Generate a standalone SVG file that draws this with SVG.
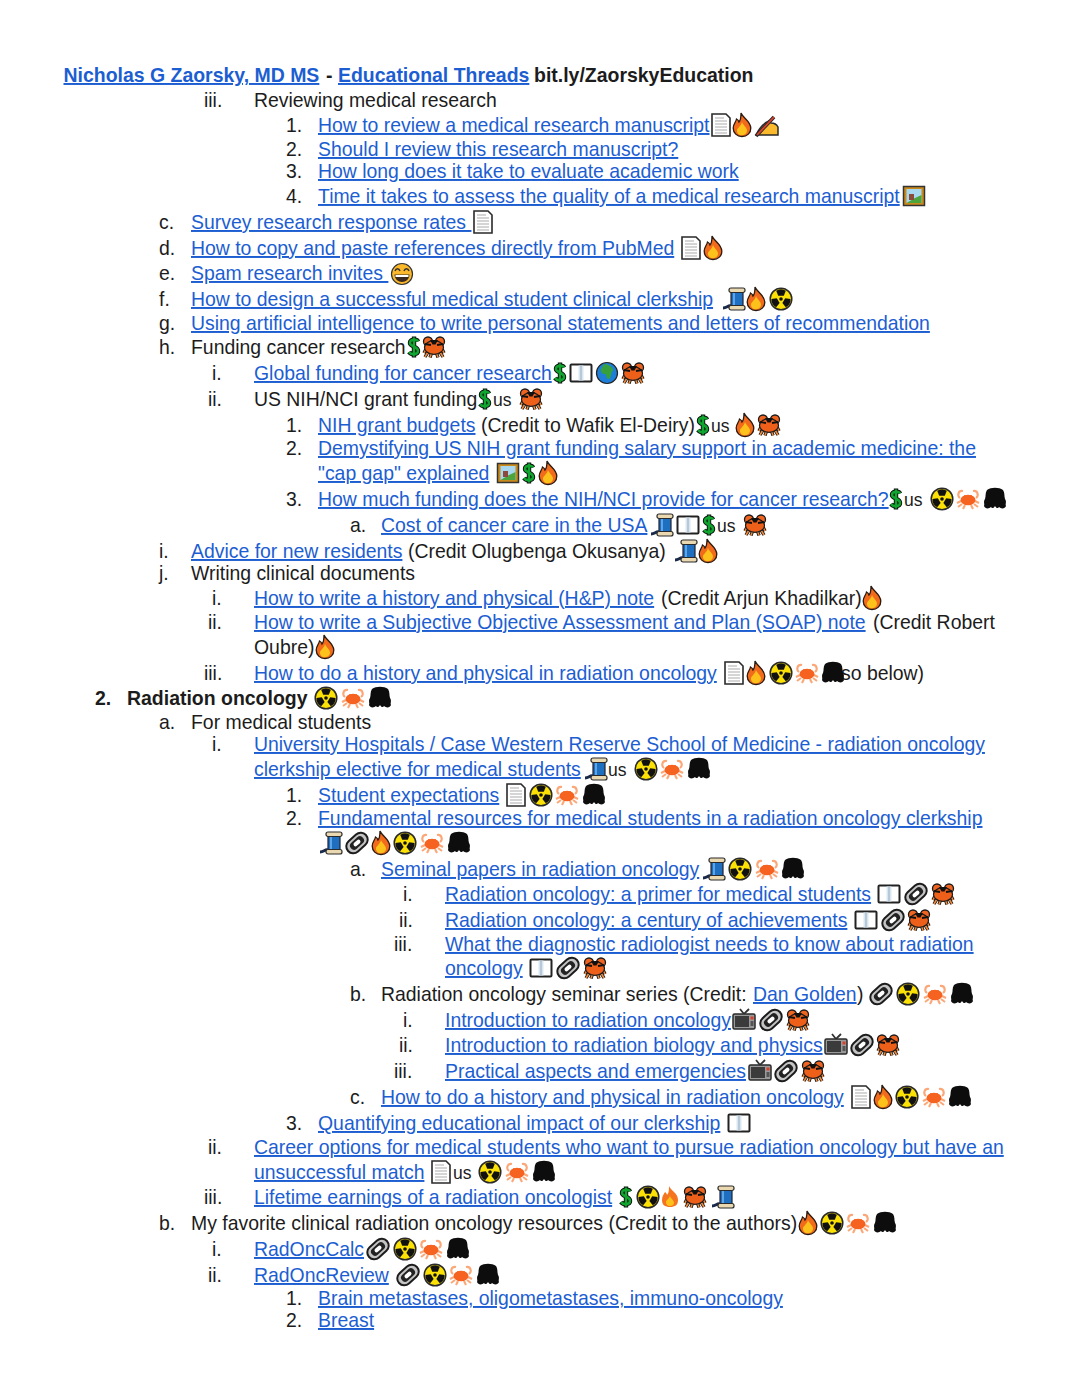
<svg xmlns="http://www.w3.org/2000/svg" width="1080" height="1397" viewBox="0 0 1080 1397">
<style>
text{font-family:"Liberation Sans",Arial,sans-serif;font-size:19.41px;fill:#1c1c1c;white-space:pre}
.l{fill:#1c5ed2;text-decoration:underline;text-decoration-skip-ink:none}
.b{font-weight:bold;font-size:19.47px}
.u{font-size:17.5px}
.leg{fill:none;stroke:#1a1a1a;stroke-width:3.4}
.leg2{fill:none;stroke:#f08a3c;stroke-width:1.6}
.fl{stroke:#2a2a2a;stroke-width:1.2;fill:#e9d8b0}
</style>
<defs>
<g id="doc"><path d="M-9,-11H5L9,-7V11H-9Z" fill="#fff" stroke="#2a2a2a" stroke-width="1.6"/><path d="M-6,-7H3M-6,-4H6M-6,-1H6M-6,2H6M-6,5H6M-6,8H6" stroke="#c8c8c8" stroke-width="1.3"/></g>
<g id="fire"><path d="M-1,-12C1,-7 8.500,-4 8.800,3C9,8 5,11.500 0,11.500C-5,11.500 -8.800,8 -8.800,3C-8.800,-1 -6,-3 -5.500,-6C-3.500,-5 -3,-3 -3,-3C-1,-5 -1,-9 -1,-12Z" fill="#f26a1b" stroke="#2a1a10" stroke-width="1.300"/><path d="M0,-3C1,0 5.500,3 5,6C4.500,9 2,10.300 0,10.300C-3,10.300 -5.500,8 -5,5C-4.500,3 -1,1 0,-3Z" fill="#fcc21b"/></g>
<g id="fire2"><path d="M-1,-11C1,-6 8,-4 8,3C8,8 5,10 0,10C-5,10 -8,8 -8,3C-8,-1 -6,-3 -5,-5C-3,-4 -3,-2 -3,-2C-1,-4 -1,-8 -1,-11Z" fill="#f4741f"/><path d="M0,-1C1,2 4,3 4,6C4,8 2,9 0,9C-3,9 -4,7 -4,5C-4,3 -1,2 0,-1Z" fill="#fcc21b"/></g>
<g id="write"><path d="M-11,9C-8,3 -3,-3 2,-5L4,-3C7,-3 10,-1 11,1V9Z" fill="#fbb92d" stroke="#2a2a2a" stroke-width="1.500"/><path d="M-11,10L7,-9" stroke="#2a2a2a" stroke-width="3.600"/><path d="M-10,9L7,-9" stroke="#e0402a" stroke-width="1.800"/></g>
<g id="pic"><rect x="-10.500" y="-9.500" width="21" height="19" fill="#c98a1d" stroke="#333" stroke-width="1.500"/><rect x="-7.500" y="-7" width="15" height="14" fill="#a8d8f0"/><path d="M-7.500,7L1,2L7.500,-1V7Z" fill="#4ea43c"/><rect x="-5" y="-2" width="5" height="6" fill="#8c4b3a"/></g>
<g id="smile"><circle r="10.500" fill="#fbb82b" stroke="#333" stroke-width="1.200"/><path d="M-7.500,0.500H7.500C7.500,5 4,8 0,8C-4,8 -7.500,5 -7.500,0.500Z" fill="#3a2a20"/><path d="M-6.500,1H6.500V3H-6.500Z" fill="#fff"/><path d="M-7,-3C-6,-6 -3,-6 -2,-3M2,-3C3,-6 6,-6 7,-3" fill="none" stroke="#333" stroke-width="1.500"/></g>
<g id="spool"><path d="M-2,7C-5,6 -6,9 -10,9" fill="none" stroke="#1a2a4a" stroke-width="3"/><rect x="-2" y="-7" width="12" height="15" fill="#1f6fc0" stroke="#223" stroke-width="1.200"/><path d="M1,-6V7" stroke="#5da5e6" stroke-width="2"/><rect class="fl" x="-4" y="-11" width="16" height="4.500" rx="2"/><rect class="fl" x="-4" y="6.500" width="16" height="4.500" rx="2"/></g>
<g id="blade"><path d="M-2.800,-3.200L-4.800,-8.300A9,9 0 0 1 4.800,-8.300L2.800,-3.200Z" fill="#111"/></g>
<g id="rad"><circle r="10.800" fill="#fbe106" stroke="#2a2a2a" stroke-width="1.500"/><circle r="1.800" fill="#111"/><use href="#blade"/><use href="#blade" transform="rotate(120)"/><use href="#blade" transform="rotate(240)"/></g>
<g id="dollar"><path d="M4,-5.500C3,-8 -4,-8 -4,-4C-4,0 4,-1 4,4C4,8 -3,8 -5,5M0,-10.500V10.500" fill="none" stroke="#111" stroke-width="4.400"/><path d="M4,-5.500C3,-8 -4,-8 -4,-4C-4,0 4,-1 4,4C4,8 -3,8 -5,5M0,-9.500V9.500" fill="none" stroke="#10a52e" stroke-width="2.500"/></g>
<g id="crab"><path class="leg" d="M-8,2L-10,6M8,2L10,6M-6,5L-9,10M6,5L9,10M-2.500,6L-4,10.500M2.500,6L4,10.500"/><path class="leg2" d="M-8,2L-10,6M8,2L10,6M-6,5L-9,10M6,5L9,10M-2.500,6L-4,10.500M2.500,6L4,10.500"/><circle cx="-6" cy="-5.500" r="4.500" fill="#ee6420" stroke="#1a1a1a" stroke-width="1.300"/><circle cx="6" cy="-5.500" r="4.500" fill="#ee6420" stroke="#1a1a1a" stroke-width="1.300"/><ellipse cy="0.500" rx="9.500" ry="6.800" fill="#ee5f1a" stroke="#1a1a1a" stroke-width="1.200"/><path d="M-4,-7L-1.500,-2.500H1.500L4,-7Z" fill="#111"/><path d="M-9,-3L-3,-2M9,-3L3,-2" stroke="#111" stroke-width="1.800"/></g>
<g id="lcrab"><path d="M-5,-8C-10,-9 -11,-3 -8,-1M5,-8C10,-9 11,-3 8,-1M-7,2L-11,4M7,2L11,4M-6,5L-10,8M6,5L10,8M-3,6L-5,10M3,6L5,10" fill="none" stroke="#fba777" stroke-width="2.100"/><ellipse cy="1" rx="7.500" ry="5.200" fill="#f6621f"/><path d="M-3,-4V-2M3,-4V-2" stroke="#f6621f" stroke-width="1.500"/></g>
<g id="blob"><path d="M-8,-9C-4,-12 4,-12 8,-9C10,-6 9,-3 10,0C12,3 10,5 11,7C10,10 6,10 4,8C3,10 1,9 0,7C-1,9 -3,10 -4,8C-6,10 -10,10 -11,7C-10,5 -12,3 -10,0C-9,-3 -10,-6 -8,-9Z" fill="#0d0d0d"/></g>
<g id="clip"><g transform="rotate(-42)"><rect x="-12" y="-7" width="24" height="14" rx="7" fill="#c4c4c4" stroke="#1c1c1c" stroke-width="2"/><rect x="-8" y="-4" width="16" height="8" rx="4" fill="#222"/><rect x="-4" y="-2" width="8" height="4" rx="2" fill="#fff"/></g></g>
<g id="tv"><path d="M-4,-11L0,-6L5,-11" fill="none" stroke="#333" stroke-width="1.800"/><rect x="-11" y="-6" width="22" height="15" rx="1.500" fill="#9a9a9a" stroke="#2a2a2a" stroke-width="1.500"/><rect x="-9" y="-4" width="14" height="11" fill="#3b3b3b"/><rect x="6.500" y="-3.500" width="3" height="3" fill="#d9402a"/><rect x="6.500" y="1" width="3" height="5" fill="#555"/></g>
<g id="book"><rect x="-10.500" y="-8.500" width="21" height="17" rx="1" fill="#fff" stroke="#222" stroke-width="2"/><path d="M-2.500,-7.500H2.500V7.500H-2.500Z" fill="#d8e6f2"/><path d="M0,-7.500V7.500" stroke="#9ab" stroke-width="1"/></g>
<g id="globe"><circle r="10.500" fill="#1f7fd8" stroke="#222" stroke-width="1.200"/><path d="M-3,-9C2,-9 7,-5 6,-2C4,-2 5,1 3,5C1,8 -1,4 -1,1C-4,2 -7,-1 -6,-4C-5,-6 -4,-7 -3,-9Z" fill="#35a03c"/></g>
</defs>
<g id="text">
<text x="63.500" y="82" class="b l">Nicholas G Zaorsky, MD MS</text><text x="326" y="82" class="b">-</text><text x="338" y="82" class="b l">Educational Threads</text><text x="534" y="82" class="b">bit.ly/ZaorskyEducation</text>
<text x="204" y="107">iii.</text><text x="254" y="107">Reviewing medical research</text>
<text x="286" y="132">1.</text><text x="318" y="132" class="l">How to review a medical research manuscript</text>
<text x="286" y="156">2.</text><text x="318" y="156" class="l">Should I review this research manuscript?</text>
<text x="286" y="178">3.</text><text x="318" y="178" class="l">How long does it take to evaluate academic work</text>
<text x="286" y="203">4.</text><text x="318" y="203" class="l">Time it takes to assess the quality of a medical research manuscript</text>
<text x="159" y="229">c.</text><text x="191" y="229" class="l">Survey research response rates </text>
<text x="159" y="255">d.</text><text x="191" y="255" class="l">How to copy and paste references directly from PubMed</text>
<text x="159" y="280">e.</text><text x="191" y="280" class="l">Spam research invites </text>
<text x="159" y="306">f.</text><text x="191" y="306" class="l">How to design a successful medical student clinical clerkship</text>
<text x="159" y="330">g.</text><text x="191" y="330" class="l">Using artificial intelligence to write personal statements and letters of recommendation</text>
<text x="159" y="354">h.</text><text x="191" y="354">Funding cancer research</text>
<text x="212" y="380">i.</text><text x="254" y="380" class="l">Global funding for cancer research</text>
<text x="208" y="406">ii.</text><text x="254" y="406">US NIH/NCI grant funding</text><text class="u" x="493" y="406">us</text>
<text x="286" y="432">1.</text><text x="318" y="432" class="l">NIH grant budgets</text><text x="481" y="432">(Credit to Wafik El-Deiry)</text><text class="u" x="711" y="432">us</text>
<text x="286" y="455">2.</text><text x="318" y="455" class="l">Demystifying US NIH grant funding salary support in academic medicine: the</text>
<text x="318" y="480" class="l">"cap gap" explained</text>
<text x="286" y="506">3.</text><text x="318" y="506" class="l">How much funding does the NIH/NCI provide for cancer research?</text><text class="u" x="904" y="506">us</text>
<text x="350" y="532">a.</text><text x="381" y="532" class="l">Cost of cancer care in the USA</text><text class="u" x="717" y="532">us</text>
<text x="159" y="558">i.</text><text x="191" y="558" class="l">Advice for new residents</text><text x="408" y="558">(Credit Olugbenga Okusanya)</text>
<text x="159" y="580">j.</text><text x="191" y="580">Writing clinical documents</text>
<text x="212" y="605">i.</text><text x="254" y="605" class="l">How to write a history and physical (H&amp;P) note</text><text x="661" y="605">(Credit Arjun Khadilkar)</text>
<text x="208" y="629">ii.</text><text x="254" y="629" class="l">How to write a Subjective Objective Assessment and Plan (SOAP) note</text><text x="873" y="629">(Credit Robert</text>
<text x="254" y="654">Oubre)</text>
<text x="204" y="680">iii.</text><text x="254" y="680" class="l">How to do a history and physical in radiation oncology</text><text x="841" y="680">so below)</text>
<text x="95" y="705" class="b">2.</text><text x="127" y="705" class="b">Radiation oncology</text>
<text x="159" y="729">a.</text><text x="191" y="729">For medical students</text>
<text x="212" y="751">i.</text><text x="254" y="751" class="l">University Hospitals / Case Western Reserve School of Medicine - radiation oncology</text>
<text x="254" y="776" class="l">clerkship elective for medical students</text><text class="u" x="608" y="776">us</text>
<text x="286" y="802">1.</text><text x="318" y="802" class="l">Student expectations</text>
<text x="286" y="825">2.</text><text x="318" y="825" class="l">Fundamental resources for medical students in a radiation oncology clerkship</text>
<text x="350" y="876">a.</text><text x="381" y="876" class="l">Seminal papers in radiation oncology</text>
<text x="403" y="901">i.</text><text x="445" y="901" class="l">Radiation oncology: a primer for medical students</text>
<text x="399" y="927">ii.</text><text x="445" y="927" class="l">Radiation oncology: a century of achievements</text>
<text x="394" y="951">iii.</text><text x="445" y="951" class="l">What the diagnostic radiologist needs to know about radiation</text>
<text x="445" y="975" class="l">oncology</text>
<text x="350" y="1001">b.</text><text x="381" y="1001">Radiation oncology seminar series (Credit:</text><text x="753" y="1001" class="l">Dan Golden</text><text x="857" y="1001">)</text>
<text x="403" y="1027">i.</text><text x="445" y="1027" class="l">Introduction to radiation oncology</text>
<text x="399" y="1052">ii.</text><text x="445" y="1052" class="l">Introduction to radiation biology and physics</text>
<text x="394" y="1078">iii.</text><text x="445" y="1078" class="l">Practical aspects and emergencies</text>
<text x="350" y="1104">c.</text><text x="381" y="1104" class="l">How to do a history and physical in radiation oncology</text>
<text x="286" y="1130">3.</text><text x="318" y="1130" class="l">Quantifying educational impact of our clerkship</text>
<text x="208" y="1154">ii.</text><text x="254" y="1154" class="l">Career options for medical students who want to pursue radiation oncology but have an</text>
<text x="254" y="1179" class="l">unsuccessful match</text><text class="u" x="453" y="1179">us</text>
<text x="204" y="1204">iii.</text><text x="254" y="1204" class="l">Lifetime earnings of a radiation oncologist</text>
<text x="159" y="1230">b.</text><text x="191" y="1230">My favorite clinical radiation oncology resources (Credit to the authors)</text>
<text x="212" y="1256">i.</text><text x="254" y="1256" class="l">RadOncCalc</text>
<text x="208" y="1282">ii.</text><text x="254" y="1282" class="l">RadOncReview</text>
<text x="286" y="1305">1.</text><text x="318" y="1305" class="l">Brain metastases, oligometastases, immuno-oncology</text>
<text x="286" y="1327">2.</text><text x="318" y="1327" class="l">Breast</text>
</g>
<g id="icons">
<use href="#doc" x="721" y="125"/><use href="#fire" x="742" y="125"/><use href="#write" x="767" y="126"/>
<use href="#pic" x="914" y="196"/>
<use href="#doc" x="483" y="222"/>
<use href="#doc" x="691" y="248"/><use href="#fire" x="713" y="248"/>
<use href="#smile" x="402" y="274"/>
<use href="#spool" x="733" y="299"/><use href="#fire" x="756" y="299"/><use href="#rad" x="781" y="299"/>
<use href="#dollar" x="414" y="347"/><use href="#crab" x="434" y="347"/>
<use href="#dollar" x="560" y="373"/><use href="#book" x="581" y="373"/><use href="#globe" x="607" y="373"/><use href="#crab" x="633" y="373"/>
<use href="#dollar" x="485" y="399"/><use href="#crab" x="531" y="399"/>
<use href="#dollar" x="703" y="425"/><use href="#fire" x="745" y="425"/><use href="#crab" x="769" y="425"/>
<use href="#pic" x="508" y="473"/><use href="#dollar" x="529" y="473"/><use href="#fire" x="548" y="473"/>
<use href="#dollar" x="896" y="499"/><use href="#rad" x="942" y="499"/><use href="#lcrab" x="968" y="499"/><use href="#blob" x="995" y="499"/>
<use href="#spool" x="661" y="525"/><use href="#book" x="688" y="525"/><use href="#dollar" x="709" y="525"/><use href="#crab" x="755" y="525"/>
<use href="#spool" x="685" y="551"/><use href="#fire" x="708" y="551"/>
<use href="#fire" x="872" y="598"/>
<use href="#fire" x="325" y="647"/>
<use href="#doc" x="734" y="673"/><use href="#fire" x="756" y="673"/><use href="#rad" x="781" y="673"/><use href="#lcrab" x="807" y="673"/><use href="#blob" x="833" y="673"/>
<use href="#rad" x="326" y="698"/><use href="#lcrab" x="353" y="698"/><use href="#blob" x="380" y="698"/>
<use href="#spool" x="595" y="769"/><use href="#rad" x="646" y="769"/><use href="#lcrab" x="672" y="769"/><use href="#blob" x="699" y="769"/>
<use href="#doc" x="516" y="795"/><use href="#rad" x="541" y="795"/><use href="#lcrab" x="567" y="795"/><use href="#blob" x="594" y="795"/>
<use href="#spool" x="330" y="843"/><use href="#clip" x="357" y="843"/><use href="#fire" x="381" y="843"/><use href="#rad" x="405" y="843"/><use href="#lcrab" x="432" y="843"/><use href="#blob" x="459" y="843"/>
<use href="#spool" x="713" y="869"/><use href="#rad" x="740" y="869"/><use href="#lcrab" x="767" y="869"/><use href="#blob" x="793" y="869"/>
<use href="#book" x="889" y="894"/><use href="#clip" x="916" y="894"/><use href="#crab" x="943" y="894"/>
<use href="#book" x="866" y="920"/><use href="#clip" x="893" y="920"/><use href="#crab" x="919" y="920"/>
<use href="#book" x="541" y="968"/><use href="#clip" x="568" y="968"/><use href="#crab" x="595" y="968"/>
<use href="#clip" x="881" y="994"/><use href="#rad" x="908" y="994"/><use href="#lcrab" x="935" y="994"/><use href="#blob" x="962" y="994"/>
<use href="#tv" x="744" y="1020"/><use href="#clip" x="771" y="1020"/><use href="#crab" x="798" y="1020"/>
<use href="#tv" x="836" y="1045"/><use href="#clip" x="862" y="1045"/><use href="#crab" x="888" y="1045"/>
<use href="#tv" x="760" y="1071"/><use href="#clip" x="786" y="1071"/><use href="#crab" x="813" y="1071"/>
<use href="#doc" x="861" y="1097"/><use href="#fire" x="883" y="1097"/><use href="#rad" x="907" y="1097"/><use href="#lcrab" x="934" y="1097"/><use href="#blob" x="960" y="1097"/>
<use href="#book" x="739" y="1123"/>
<use href="#doc" x="441" y="1172"/><use href="#rad" x="490" y="1172"/><use href="#lcrab" x="517" y="1172"/><use href="#blob" x="544" y="1172"/>
<use href="#dollar" x="626" y="1197"/><use href="#rad" x="648" y="1197"/><use href="#fire2" x="670" y="1197"/><use href="#crab" x="695" y="1197"/><use href="#spool" x="722" y="1197"/>
<use href="#fire" x="808" y="1223"/><use href="#rad" x="832" y="1223"/><use href="#lcrab" x="858" y="1223"/><use href="#blob" x="885" y="1223"/>
<use href="#clip" x="378" y="1249"/><use href="#rad" x="405" y="1249"/><use href="#lcrab" x="431" y="1249"/><use href="#blob" x="458" y="1249"/>
<use href="#clip" x="408" y="1275"/><use href="#rad" x="435" y="1275"/><use href="#lcrab" x="461" y="1275"/><use href="#blob" x="488" y="1275"/>
</g>
</svg>
